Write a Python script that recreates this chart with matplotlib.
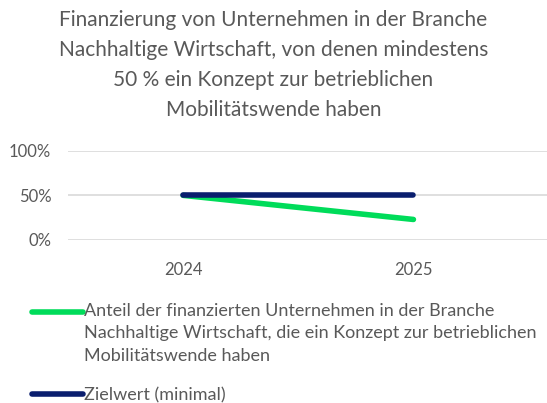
import matplotlib
matplotlib.use("Agg")
import matplotlib.pyplot as plt
from matplotlib.ticker import FuncFormatter
from matplotlib.legend_handler import HandlerLine2D

categories = ["2024", "2025"]
anteil = [50, 23]
zielwert = [50, 50]
yticks = [0, 50, 100]

title = ("Finanzierung von Unternehmen in der Branche\n"
         "Nachhaltige Wirtschaft, von denen mindestens\n"
         "50 % ein Konzept zur betrieblichen\n"
         "Mobilitätswende haben")
label_anteil = ("Anteil der finanzierten Unternehmen in der Branche\n"
                "Nachhaltige Wirtschaft, die ein Konzept zur betrieblichen\n"
                "Mobilitätswende haben")
label_ziel = "Zielwert (minimal)"

plt.rcParams['font.family'] = ['Lato', 'DejaVu Sans']
txt = '#595959'


class TopHandler(HandlerLine2D):
    def __init__(self, shift=0.0, **kw):
        super().__init__(**kw)
        self.shift = shift

    def create_artists(self, legend, orig_handle, xdescent, ydescent, width,
                       height, fontsize, trans):
        return super().create_artists(legend, orig_handle, xdescent,
                                      ydescent - 2 * self.shift * fontsize,
                                      width, height, fontsize, trans)


fig = plt.figure(figsize=(5.47, 4.03), dpi=100)
ax = fig.add_axes([68/547, 1-240/403, 479/547, (240-150.7)/403])

x = list(range(len(categories)))
l1, = ax.plot(x, anteil, color='#00DC5A', lw=4, solid_capstyle='round', zorder=3)
l2, = ax.plot(x, zielwert, color='#0A1E6E', lw=4, solid_capstyle='round', zorder=4)

ax.set_xlim(-0.5, 1.58)
ax.set_ylim(0, 100)
ax.set_yticks(yticks)
ax.yaxis.set_major_formatter(FuncFormatter(lambda v, p: f"{int(v)}%"))
ax.set_xticks(x)
ax.set_xticklabels(categories)
ax.grid(axis='y', color='#D9D9D9', lw=1.2)
ax.set_axisbelow(True)
for s in ax.spines.values():
    s.set_visible(False)
ax.tick_params(axis='both', length=0, labelsize=12, colors=txt)
ax.tick_params(axis='x', pad=16)
ax.tick_params(axis='y', pad=12)
for l in (l1, l2):
    l.set_clip_on(False)

fig.text(0.5, 1-10/403, title, ha='center', va='top', fontsize=15, color=txt,
         linespacing=1.62)

leg = fig.legend([l1, l2], [label_anteil, label_ziel], loc='upper left',
                 bbox_to_anchor=(16/547, 1-287/403), frameon=False, fontsize=13,
                 handlelength=2.8, handletextpad=0.08, labelspacing=1.3,
                 labelcolor=txt,
                 handler_map={l1: TopHandler(shift=1.18), l2: TopHandler(shift=0.0)})
for t in leg.get_texts():
    t.set_linespacing(1.48)

fig.savefig("out.png", dpi=100)
